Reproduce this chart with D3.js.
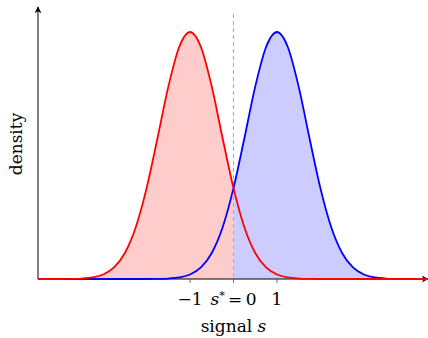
<!DOCTYPE html>
<html>
<head>
<meta charset="utf-8">
<script src="https://cdn.jsdelivr.net/npm/d3@7"></script>
<style>
  body { margin: 0; background: #fff; }
  svg text { font-family: "DejaVu Serif", "Liberation Serif", serif; fill: #000; }
</style>
</head>
<body>
<svg id="chart"></svg>
<script>
const sValues = [-4.5, -4.25, -4, -3.75, -3.5, -3.25, -3, -2.75, -2.5, -2.25, -2, -1.75, -1.5, -1.25, -1,
  -0.75, -0.5, -0.25, 0, 0.25, 0.5, 0.75, 1, 1.25, 1.5, 1.75, 2, 2.25, 2.5, 2.75, 3, 3.25, 3.5, 3.75, 4, 4.25, 4.5];
// red density (noise, centred at -1), relative height
const redDensity = [0, 0, 0.0001, 0.0005, 0.0019, 0.0063, 0.0183, 0.0468, 0.1054, 0.2096, 0.3679, 0.5698, 0.7788, 0.9394, 1,
  0.9394, 0.7788, 0.5698, 0.3679, 0.2096, 0.1054, 0.0468, 0.0183, 0.0063, 0.0019, 0.0005, 0.0001, 0, 0, 0, 0, 0, 0, 0, 0, 0, 0];
// blue density (signal, centred at +1)
const blueDensity = [0, 0, 0, 0, 0, 0, 0, 0, 0, 0, 0.0001, 0.0005, 0.0019, 0.0063, 0.0183,
  0.0468, 0.1054, 0.2096, 0.3679, 0.5698, 0.7788, 0.9394, 1, 0.9394, 0.7788, 0.5698, 0.3679, 0.2096, 0.1054, 0.0468, 0.0183, 0.0063, 0.0019, 0.0005, 0.0001, 0, 0];
const tickValues = [-1, 0, 1];
const tickLabels = ["\u22121", "s*=0", "1"];
const threshold = 0;

const width = 428, height = 338;
const x0 = 38, xEnd = 429, yBase = 279, yTop = 32;

const svg = d3.select("#chart").attr("width", width).attr("height", height);

const x = d3.scaleLinear().domain([-4.5, 4.5]).range([x0, xEnd]);
const y = d3.scaleLinear().domain([0, 1]).range([yBase, yTop]);

const red = sValues.map((s, i) => ({ s: s, d: redDensity[i] }));
const blue = sValues.map((s, i) => ({ s: s, d: blueDensity[i] }));

const area = d3.area().x(d => x(d.s)).y0(y(0)).y1(d => y(d.d)).curve(d3.curveMonotoneX);
const line = d3.line().x(d => x(d.s)).y(d => y(d.d)).curve(d3.curveMonotoneX);

// fills split at the threshold
svg.append("path")
   .attr("d", area(red.filter(d => d.s <= threshold)))
   .attr("fill", "#ffcccc");
svg.append("path")
   .attr("d", area(blue.filter(d => d.s >= threshold)))
   .attr("fill", "#ccccff");

// threshold line
svg.append("line")
   .attr("x1", x(threshold)).attr("x2", x(threshold))
   .attr("y1", 14).attr("y2", yBase)
   .attr("stroke", "#a8a8a8")
   .attr("stroke-width", 1)
   .attr("stroke-dasharray", "4,3");

// arrow marker
const defs = svg.append("defs");
defs.append("marker")
    .attr("id", "arrow")
    .attr("viewBox", "0 0 10 10")
    .attr("refX", 9).attr("refY", 5)
    .attr("markerWidth", 7).attr("markerHeight", 7)
    .attr("markerUnits", "userSpaceOnUse")
    .attr("orient", "auto")
  .append("path")
    .attr("d", "M0,0 L10,5 L0,10 L3,5 Z")
    .attr("fill", "#000");

// axes
svg.append("line")
   .attr("x1", x0).attr("y1", yBase).attr("x2", 428).attr("y2", yBase)
   .attr("stroke", "#000").attr("stroke-width", 1)
   .attr("marker-end", "url(#arrow)");
svg.append("line")
   .attr("x1", x0).attr("y1", yBase).attr("x2", x0).attr("y2", 7)
   .attr("stroke", "#000").attr("stroke-width", 1)
   .attr("marker-end", "url(#arrow)");

// curves
svg.append("path")
   .attr("d", line(blue))
   .attr("fill", "none").attr("stroke", "#0000ff").attr("stroke-width", 1.8);
svg.append("path")
   .attr("d", line(red))
   .attr("fill", "none").attr("stroke", "#ff0000").attr("stroke-width", 1.8);

// ticks
svg.selectAll(".tick")
   .data(tickValues)
   .enter()
   .append("line")
   .attr("x1", d => x(d)).attr("x2", d => x(d))
   .attr("y1", yBase).attr("y2", yBase + 4)
   .attr("stroke", "#444").attr("stroke-width", 0.8);

const labels = svg.selectAll(".ticklabel")
   .data(tickValues)
   .enter()
   .append("text")
   .attr("x", d => x(d))
   .attr("y", 305)
   .attr("text-anchor", "middle")
   .style("font-size", "17px");
labels.each(function(d, i) {
  const t = d3.select(this);
  if (tickLabels[i] === "s*=0") {
    t.append("tspan").style("font-style", "italic").text("s");
    t.append("tspan").attr("dy", -6).style("font-size", "11px").text("*");
    t.append("tspan").attr("dy", 6).text("\u2009=\u20090");
  } else {
    t.text(tickLabels[i]);
  }
});

// axis titles
const xt = svg.append("text")
   .attr("x", x(0))
   .attr("y", 332)
   .attr("text-anchor", "middle")
   .style("font-size", "17px");
xt.append("tspan").text("signal ");
xt.append("tspan").style("font-style", "italic").text("s");

svg.append("text")
   .attr("transform", "translate(22,144) rotate(-90)")
   .attr("text-anchor", "middle")
   .style("font-size", "17px")
   .text("density");
</script>
</body>
</html>
